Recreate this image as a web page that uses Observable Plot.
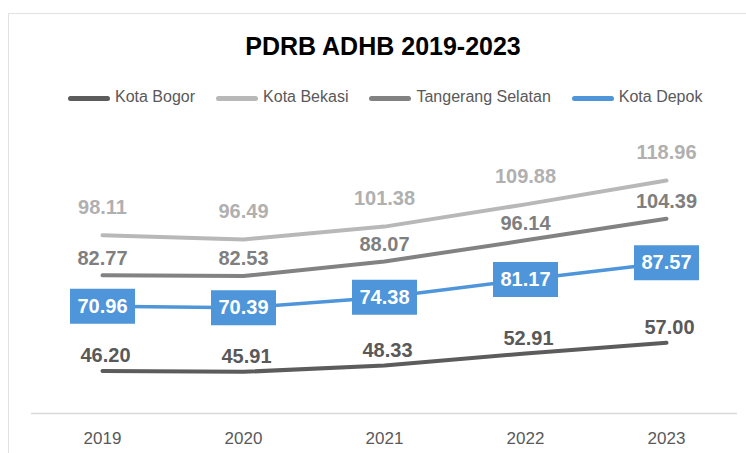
<!DOCTYPE html>
<html>
<head>
<meta charset="utf-8">
<script src="https://cdn.jsdelivr.net/npm/d3@7"></script>
<script src="https://cdn.jsdelivr.net/npm/@observablehq/plot@0.6"></script>
<style>
  html, body { margin: 0; padding: 0; background: #fff; }
  body { width: 746px; height: 453px; position: relative; overflow: hidden; font-family: "Liberation Sans", Arial, sans-serif; }
  #frame { position: absolute; left: 8px; top: 13px; width: 780px; height: 480px; border: 1.6px solid #e2e2e2; box-sizing: border-box; }
  #title { position: absolute; left: 0; top: 34px; width: 766px; text-align: center; font-size: 25px; line-height: 25px; font-weight: bold; color: #000; }
  #legend { position: absolute; left: 68px; top: 89px; display: flex; align-items: center; font-size: 16px; line-height: 16px; color: #595959; }
  .item { display: flex; align-items: center; margin-right: 21px; }
  .swatch { width: 42px; height: 5px; border-radius: 3px; margin-right: 5px; margin-top: 3px; }
  #chart { position: absolute; left: 0; top: 0; }
</style>
</head>
<body>
<div id="chart"></div>
<div id="frame"></div>
<div id="title"></div>
<div id="legend"></div>
<script>
const years = ["2019", "2020", "2021", "2022", "2023"];
const kotaBogor = [46.20, 45.91, 48.33, 52.91, 57.00];
const kotaBekasi = [98.11, 96.49, 101.38, 109.88, 118.96];
const tangerangSelatan = [82.77, 82.53, 88.07, 96.14, 104.39];
const kotaDepok = [70.96, 70.39, 74.38, 81.17, 87.57];
const seriesNames = ["Kota Bogor", "Kota Bekasi", "Tangerang Selatan", "Kota Depok"];
const seriesValues = [kotaBogor, kotaBekasi, tangerangSelatan, kotaDepok];
const titleText = "PDRB ADHB 2019-2023";

const colors = ["#5c5c5c", "#b8b8b8", "#828282", "#4e95d9"];
const labelColors = ["#595959", "#b0b0b0", "#7f7f7f", "#ffffff"];
const labelDy = [-15, -28, -17, 0];
const labelDx = [3, 0, 0, 0];
const widths = [4, 4, 4, 3.5];

const series = seriesNames.map((name, i) => years.map((y, j) => ({series: name, year: y, value: seriesValues[i][j]})));

const boxSymbol = { draw(ctx) { ctx.rect(-32.5, -17.5, 65, 35); } };

const marks = [
  Plot.ruleY([30], {stroke: "#d9d9d9", strokeWidth: 1.5}),
  Plot.axisX({tickSize: 0, tickPadding: 18, fontSize: 17, fill: "#595959"})
];
series.forEach((data, i) => {
  marks.push(Plot.line(data, {x: "year", y: "value", stroke: colors[i], strokeWidth: widths[i], curve: "linear", strokeLinecap: "round", strokeLinejoin: "round"}));
});
series.forEach((data, i) => {
  if (i === 3) {
    marks.push(Plot.dot(data, {x: "year", y: "value", symbol: boxSymbol, fill: colors[i], stroke: "none"}));
  }
  marks.push(Plot.text(data, {x: "year", y: "value", text: d => d.value.toFixed(2), dy: labelDy[i], dx: labelDx[i], fill: labelColors[i], fontSize: 20, fontWeight: "bold"}));
});

const chart = Plot.plot({
  width: 746,
  height: 453,
  marginLeft: 31,
  marginRight: 9,
  marginTop: 125,
  marginBottom: 40,
  style: {fontFamily: "'Liberation Sans', Arial, sans-serif", background: "transparent"},
  x: {type: "point", domain: years, padding: 0.5, label: null},
  y: {domain: [30, 140], axis: null},
  marks
});
document.getElementById("chart").appendChild(chart);

document.getElementById("title").textContent = titleText;
const legend = document.getElementById("legend");
seriesNames.forEach((name, i) => {
  const item = document.createElement("div");
  item.className = "item";
  const sw = document.createElement("div");
  sw.className = "swatch";
  sw.style.background = colors[i];
  const label = document.createElement("span");
  label.textContent = name;
  item.appendChild(sw);
  item.appendChild(label);
  legend.appendChild(item);
});
</script>
</body>
</html>
